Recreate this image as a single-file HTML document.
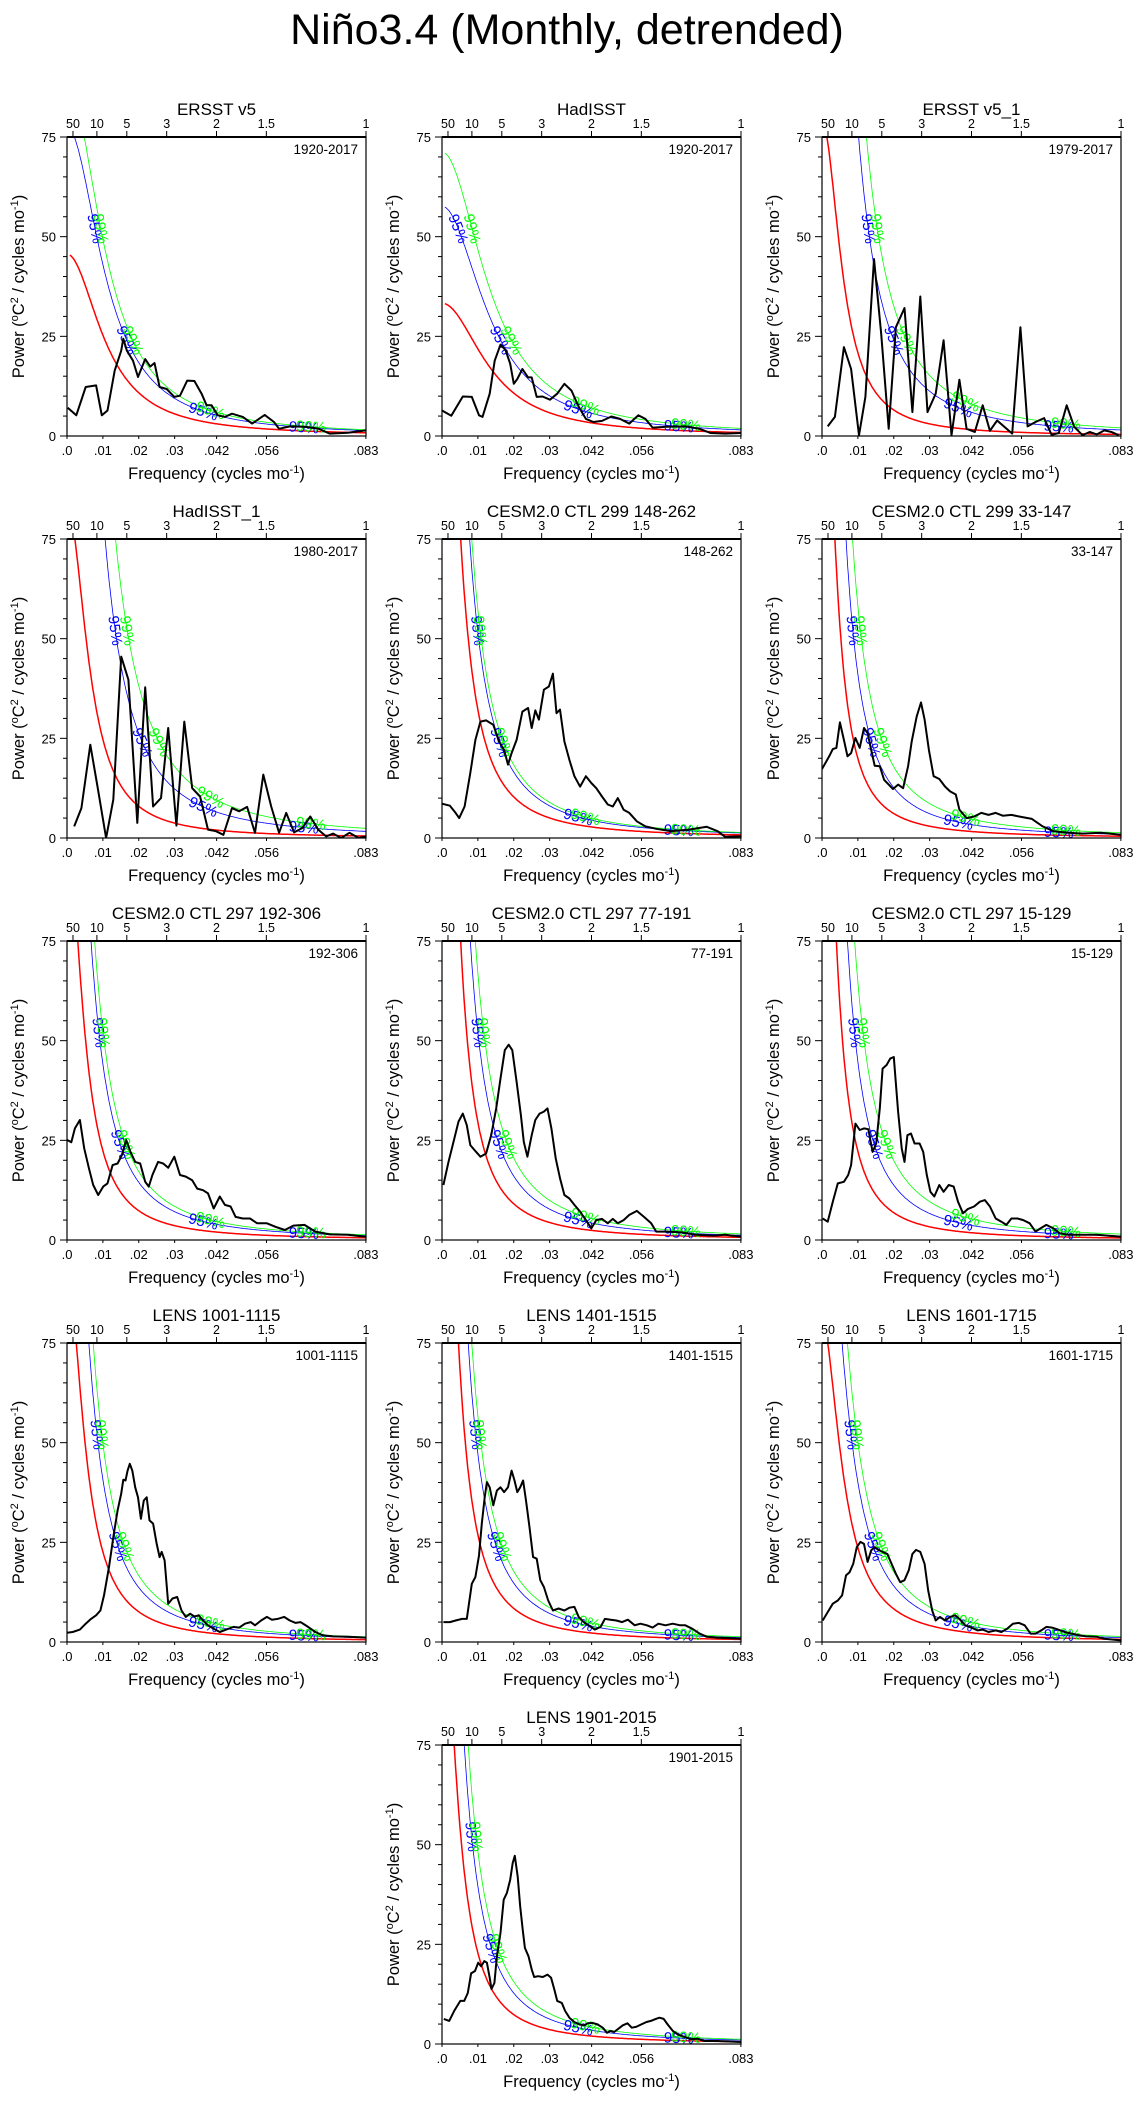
<!DOCTYPE html>
<html><head><meta charset="utf-8"><title>Niño3.4 spectra</title>
<style>
html,body{margin:0;padding:0;background:#fff;}
svg text{font-family:"Liberation Sans",sans-serif;}
</style></head>
<body>
<svg id="fig" xmlns="http://www.w3.org/2000/svg" width="1134" height="2101" viewBox="0 0 1134 2101">
<rect x="0" y="0" width="1134" height="2101" fill="#fff"/>
<text x="567" y="44" font-size="43" text-anchor="middle" fill="#000">Niño3.4 (Monthly, detrended)</text>
</svg>
<script>
// ---- data (frequency in cycles/month, power in degC^2 / cycles mo^-1) ----
const freqP1=[.0002,.0026,.0052,.0081,.0097,.0113,.0133,.0151,.0157,.0167,.0184,.0198,.0218,.0232,.0244,.0258,.0278,.0299,.0315,.0335,.0355,.0375,.0389,.0403,.0420,.0440,.0460,.0490,.0516,.0551,.0577,.0591,.0621,.0662,.0702,.0732,.0783,.0833];
const powP1=[7.1,5.2,12.3,12.7,5.2,6.4,16.4,21.4,24.4,21.4,18.9,14.8,19.3,17.4,18.3,12.3,11.8,9.8,10.1,13.9,13.8,10.6,7.7,7.7,5.2,4.8,5.6,4.8,3.1,5.3,3.5,1.8,2.4,2.3,1.8,0.6,0.8,1.4];
const freqP2=[0,.0026,.0058,.0083,.0103,.0113,.0133,.0147,.0163,.0177,.0190,.0200,.0210,.0224,.0240,.0250,.0264,.0280,.0301,.0321,.0341,.0361,.0381,.0401,.0422,.0446,.0472,.0496,.0522,.0547,.0567,.0587,.0627,.0678,.0718,.0748,.0789,.0833];
const powP2=[6.4,5.1,9.9,9.8,5.2,4.8,10.6,18.9,22.9,21.6,18.1,13.1,14.3,16.8,14.7,14.7,9.8,9.9,9.1,10.6,13.1,11.4,7.3,4.3,3.5,3.8,4.9,4.3,3.1,5.2,4.3,2.1,2.3,2.4,1.8,0.75,0.6,0.75];
const freqP3=[.0016,.0036,.0061,.0081,.0103,.0121,.0145,.0165,.0186,.0206,.0230,.0252,.0274,.0294,.0317,.0339,.0361,.0383,.0403,.0426,.0448,.0468,.0488,.0530,.0553,.0573,.0595,.0619,.0640,.0660,.0682,.0703,.0726,.0746,.0766,.0787,.0807,.0827];
const powP3=[2.4,4.8,22.3,16.8,0.2,9.8,44.4,25.6,1.8,27.3,32.1,6.0,35.0,6.0,10.6,24.0,0.2,14.1,1.8,1.0,7.7,1.3,3.9,0.6,27.3,2.4,3.5,4.5,0.3,0.75,7.7,2.3,0.2,1.0,0.4,1.4,1.0,0.2];
const freqP4=[.002,.004,.0065,.0085,.0109,.0129,.0151,.0171,.0196,.0218,.0240,.0262,.0282,.0305,.0327,.0349,.0371,.0393,.0415,.0436,.0460,.0480,.0502,.0524,.0547,.0569,.0591,.0611,.0633,.0656,.0678,.0700,.0722,.0742,.0764,.0787,.0813,.0833];
const powP4=[2.9,7.5,23.4,12.9,0,9.6,45.5,39.7,3.8,37.8,7.9,10.0,27.6,3.1,29.2,12.5,10.4,2.1,1.7,0.8,7.5,6.7,7.8,1.3,15.9,7.9,1.3,6.3,1.4,2.5,5.4,2.1,0.4,1.1,0,1.3,0,0.4];
const freqP5=[0,.0022,.0038,.0048,.0063,.0079,.0093,.0107,.0123,.0143,.0159,.0173,.0184,.0194,.0208,.0224,.0240,.0250,.0260,.0270,.0284,.0298,.0309,.0319,.0329,.0341,.0355,.0369,.0385,.0401,.0416,.0430,.0446,.0462,.0476,.0490,.0506,.0522,.0543,.0567,.0597,.0637,.0688,.0738,.0768,.0789,.0833];
const powP5=[8.6,8.1,6.3,5.0,7.9,16.3,24.6,29.2,29.5,28.4,24.2,22.1,18.4,21.3,24.6,31.7,32.6,27.6,32.0,29.7,37.2,38.0,41.2,31.3,32.2,24.2,19.6,15.5,12.9,15.5,13.8,12.5,10.4,8.4,7.9,10.0,7.1,6.3,4.2,2.9,2.3,1.7,2.1,2.8,1.7,0.3,0.4];
const freqP6=[0,.0020,.0030,.0040,.0050,.0061,.0071,.0081,.0093,.0105,.0117,.0127,.0137,.0147,.0161,.0173,.0186,.0198,.0212,.0226,.0240,.0250,.0264,.0276,.0286,.0298,.0311,.0327,.0343,.0357,.0373,.0383,.0403,.0424,.0444,.0464,.0484,.0504,.0528,.0555,.0585,.0615,.0645,.0686,.0726,.0777,.0833];
const powP6=[17.3,20.5,22.3,22.6,29.0,24.6,20.5,21.3,25.1,22.6,27.6,26.3,22.1,18.1,18.0,14.6,13.4,12.3,13.4,12.5,18.0,24.2,30.5,34.0,29.7,22.1,15.5,14.8,12.9,11.7,10.9,7.1,5.0,5.4,6.3,5.8,6.3,5.6,5.8,5.3,4.8,2.9,1.7,1.3,1.1,1.3,0.8];
const freqP7=[0,.0012,.0022,.0036,.0048,.0061,.0073,.0087,.0101,.0113,.0127,.0141,.0153,.0165,.0177,.0190,.0204,.0218,.0228,.0238,.0254,.0268,.0282,.0299,.0315,.0331,.0349,.0363,.0379,.0393,.0409,.0426,.0440,.0456,.0470,.0490,.0510,.0530,.0557,.0581,.0607,.0631,.0662,.0692,.0732,.0783,.0833];
const powP7=[25.1,24.5,28.0,30.1,23.0,18.0,13.8,11.3,13.4,14.2,18.8,19.2,21.3,25.1,22.1,19.6,19.2,14.6,13.4,16.3,19.6,19.2,18.1,20.9,16.3,15.9,15.0,12.9,12.5,11.7,7.9,10.9,8.8,8.4,5.8,5.4,5.4,4.2,4.2,3.3,2.5,3.6,3.8,2.1,1.4,1.3,0.8];
const freqP8=[.0004,.0018,.0032,.0046,.0058,.0069,.0079,.0093,.0107,.0123,.0137,.0151,.0163,.0175,.0186,.0196,.0208,.0220,.0228,.0238,.0250,.0260,.0272,.0284,.0294,.0305,.0317,.0329,.0341,.0355,.0369,.0385,.0401,.0416,.0430,.0446,.0462,.0476,.0490,.0506,.0522,.0543,.0563,.0583,.0597,.0627,.0668,.0708,.0758,.0789,.0833];
const powP8=[13.8,19.6,24.6,29.7,31.7,28.8,23.8,22.3,20.9,21.7,26.3,33.0,40.5,47.6,49.0,47.6,39.7,31.3,24.6,20.9,26.3,30.1,31.7,32.2,33.0,28.0,20.5,15.5,11.3,10.4,8.8,7.1,5.0,2.9,5.0,5.3,4.2,5.3,4.2,5.0,6.3,7.3,5.8,4.2,2.1,2.1,1.9,1.3,1.1,1.3,0.8];
const freqP9=[.0002,.0016,.0030,.0044,.0061,.0073,.0081,.0093,.0105,.0117,.0129,.0141,.0151,.0161,.0169,.0180,.0190,.0200,.0212,.0222,.0230,.0238,.0248,.0258,.0272,.0282,.0292,.0302,.0313,.0327,.0339,.0353,.0367,.0379,.0393,.0407,.0424,.0440,.0454,.0468,.0484,.0500,.0514,.0528,.0545,.0561,.0579,.0595,.0609,.0625,.0645,.0662,.0686,.0726,.0766,.0833];
const powP9=[5.4,4.6,9.6,14.2,14.6,16.3,18.8,29.2,27.6,28.0,27.8,22.1,24.2,33.0,43.0,43.9,45.5,45.9,32.2,23.0,19.6,26.3,26.7,24.2,24.2,22.1,16.3,12.1,10.9,13.8,12.1,13.8,13.4,9.6,6.7,7.8,8.4,9.6,10.0,8.4,5.4,4.6,3.8,5.4,5.4,5.0,4.2,2.1,2.9,3.8,2.9,1.7,1.3,1.3,1.3,0.8];
const freqP10=[0,.0016,.0036,.0052,.0067,.0081,.0093,.0103,.0117,.0129,.0141,.0151,.0157,.0163,.0169,.0175,.0182,.0190,.0198,.0206,.0214,.0222,.0230,.0240,.0250,.0258,.0264,.0272,.0282,.0294,.0307,.0319,.0331,.0343,.0355,.0367,.0379,.0393,.0409,.0426,.0444,.0464,.0480,.0496,.0512,.0524,.0541,.0557,.0571,.0587,.0605,.0621,.0637,.0651,.0672,.0692,.0712,.0742,.0783,.0833];
const powP10=[2.3,2.5,3.1,4.6,5.8,6.7,7.9,11.7,18.8,26.3,33.0,37.2,40.7,40.5,43.0,44.7,43.0,38.8,36.3,30.9,35.5,36.3,30.5,29.7,24.6,21.3,22.6,20.5,9.6,10.9,11.3,7.9,6.3,7.1,6.4,6.7,5.4,4.2,3.3,2.5,3.1,3.8,3.6,4.6,5.0,4.2,5.4,6.3,5.6,5.8,6.3,5.4,4.8,5.0,3.8,2.5,1.7,1.4,1.3,1.1];
const freqP11=[.0004,.0022,.0038,.0056,.0069,.0083,.0093,.0103,.0111,.0119,.0125,.0133,.0143,.0153,.0163,.0173,.0184,.0194,.0202,.0210,.0218,.0226,.0234,.0244,.0254,.0264,.0274,.0284,.0296,.0309,.0325,.0341,.0355,.0369,.0381,.0395,.0409,.0426,.0442,.0454,.0470,.0486,.0502,.0518,.0537,.0553,.0571,.0587,.0603,.0623,.0643,.0664,.0678,.0698,.0718,.0738,.0768,.0833];
const powP11=[5.0,5.0,5.4,5.8,5.8,14.6,16.3,21.7,29.7,36.3,40.1,38.8,34.3,38.0,38.8,37.6,38.8,43.0,40.5,37.6,38.8,40.5,35.5,28.8,21.3,20.9,15.5,13.8,10.4,7.9,8.4,7.9,8.6,8.8,6.3,5.0,4.2,3.1,3.8,5.8,5.6,5.4,5.0,5.6,4.2,4.6,4.2,3.6,4.6,4.2,4.6,4.2,4.2,3.3,2.1,1.3,1.1,0.8];
const freqP12=[.0002,.0016,.0030,.0044,.0056,.0067,.0077,.0087,.0097,.0107,.0117,.0127,.0137,.0147,.0157,.0169,.0182,.0194,.0206,.0218,.0230,.0242,.0252,.0262,.0274,.0286,.0296,.0307,.0317,.0329,.0343,.0357,.0371,.0383,.0399,.0416,.0434,.0448,.0464,.0484,.0500,.0516,.0532,.0549,.0565,.0581,.0595,.0611,.0625,.0641,.0658,.0676,.0696,.0716,.0736,.0766,.0787,.0833];
const powP12=[5.4,7.5,9.6,10.4,11.7,16.7,17.5,19.6,23.8,25.1,24.6,20.1,23.0,23.8,23.1,22.6,22.1,19.6,17.1,15.0,15.5,18.0,22.1,23.1,22.6,19.6,12.9,7.9,5.4,6.3,5.4,6.3,6.7,5.8,4.2,3.6,2.9,3.1,2.5,2.9,2.5,3.3,4.6,4.8,4.2,2.1,2.1,2.9,3.8,3.6,3.1,2.5,2.1,1.7,1.4,1.3,0.8,0.4];
const freqP13=[.0005,.0020,.0034,.0051,.0062,.0072,.0081,.0092,.0101,.0109,.0118,.0125,.0133,.0138,.0146,.0153,.0163,.0172,.0181,.0190,.0197,.0203,.0211,.0218,.0225,.0231,.0241,.0250,.0257,.0268,.0281,.0294,.0304,.0313,.0321,.0334,.0343,.0355,.0369,.0383,.0397,.0406,.0420,.0434,.0448,.0460,.0469,.0480,.0490,.0504,.0517,.0529,.0541,.0555,.0569,.0582,.0596,.0606,.0618,.0629,.0643,.0657,.0675,.0694,.0713,.0731,.0768,.0833];
const powP13=[6.3,5.8,8.3,10.8,10.8,12.8,17.7,18.3,20.4,19.5,20.8,20.4,16.6,13.8,15.3,22.0,27.9,36.2,37.9,41.2,45.4,47.2,42.0,34.5,28.7,24.1,22.0,18.7,16.8,17.0,16.8,17.4,16.6,13.7,10.8,10.3,8.3,6.6,5.5,4.9,4.7,5.2,5.3,4.9,4.1,2.8,3.3,3.0,3.7,4.7,5.2,4.1,4.3,4.9,5.5,5.8,6.3,6.6,6.3,4.9,3.3,2.4,1.8,1.2,1.3,0.75,0.75,0.5];

const panelTitles=["ERSST v5","HadISST","ERSST v5_1","HadISST_1","CESM2.0 CTL 299 148-262","CESM2.0 CTL 299 33-147","CESM2.0 CTL 297 192-306","CESM2.0 CTL 297 77-191","CESM2.0 CTL 297 15-129","LENS 1001-1115","LENS 1401-1515","LENS 1601-1715","LENS 1901-2015"];
const periodLabels=["1920-2017","1920-2017","1979-2017","1980-2017","148-262","33-147","192-306","77-191","15-129","1001-1115","1401-1515","1601-1715","1901-2015"];
const freqSeries=[freqP1,freqP2,freqP3,freqP4,freqP5,freqP6,freqP7,freqP8,freqP9,freqP10,freqP11,freqP12,freqP13];
const powSeries=[powP1,powP2,powP3,powP4,powP5,powP6,powP7,powP8,powP9,powP10,powP11,powP12,powP13];
// red-noise reference: two (freq, power) anchor points + exponent
const redAnchors=[[.0002,45.6,.0198,11,2],[0,33.3,.0103,21.4,2],[.002,71,.0202,6.4,2],[.0022,75,.0198,8.1,2],[.0052,75,.0107,29,1.85],[.0036,75,.0121,14.6,1.85],[.0030,75,.0137,13.8,1.85],[.0052,75,.0143,16.3,1.85],[.0040,75,.0121,16.3,1.85],[.0026,75,.0117,18,1.85],[.0046,75,.0107,24.2,1.85],[.0016,75,.0097,24.6,1.85],[.0034,75,.0138,13.8,1.85]];
const conf95=[1.7,1.73,3.7,3.3,null,null,null,null,null,null,null,null,null];
const conf99=[1.95,2.14,5.0,4.8,null,null,null,null,null,null,null,null,null];
const top95=[0,0,0,0,.0077,.0067,.0067,.0079,.0071,.0061,.0073,.0056,.0062];
const top99=[0,0,0,0,.0083,.0085,.0077,.0093,.0091,.0073,.0083,.0071,.0073];
const yTicks=[0,25,50,75];
const xTickVals=[0,.01,.02,.03,.0417,.0556,.0833];
const xTickLabels=[".0",".01",".02",".03",".042",".056",".083"];
const periodTicks=[50,10,5,3,2,1.5,1];

const NS="http://www.w3.org/2000/svg";
const svg=document.getElementById('fig');
const colLeft=[67,442,822], rowTop=[137,539,941,1343,1745], W=299, H=299;
const FMAX=1/12, YMAX=75;
function mk(tag,attrs,parent){const e=document.createElementNS(NS,tag);for(const k in attrs)e.setAttribute(k,attrs[k]);(parent||svg).appendChild(e);return e;}

function drawPanel(i,L,T){
  const g=mk('g',{});
  
  
  const xs=f=>L+f/FMAX*W, ys=v=>T+H-v/YMAX*H;
  const cid='clip'+i;
  const cp=mk('clipPath',{id:cid},g); mk('rect',{x:L,y:T,width:W,height:H},cp);
  const a=redAnchors[i], p=a[4];
  const u=(a[1]-a[3])/(a[3]*Math.pow(a[2],p)-a[1]*Math.pow(a[0],p));
  const A=a[1]*(1+Math.pow(a[0],p)*u);
  const red=f=>A/(1+Math.pow(f,p)*u);
  const k95=conf95[i]!==null?conf95[i]:75/red(top95[i]);
  const k99=conf99[i]!==null?conf99[i]:75/red(top99[i]);
  const curves=[[f=>red(f),'#ff0000',1.5,'red-noise-curve'],[f=>red(f)*k95,'#0000ff',0.8,'conf-95-curve'],[f=>red(f)*k99,'#00ff00',0.8,'conf-99-curve']];
  const cg=mk('g',{'clip-path':'url(#'+cid+')'},g);
  curves.forEach(c=>{
    let d='';
    for(let f=.0008;f<=FMAX+1e-9;f+=.0002){d+=(d?'L':'M')+xs(f).toFixed(1)+','+ys(Math.min(c[0](f),90)).toFixed(1);}
    const pth=mk('path',{d:d,fill:'none',stroke:c[1],'stroke-width':c[2]},cg);
    
    
  });
  [[1,'95%','#0000ff',0],[2,'99%','#00ff00',1]].forEach(([ci,txt,col,off])=>{
    const fn=curves[ci][0];
    const findF=v=>{let lo=.0008,hi=FMAX;if(fn(lo)<v||fn(hi)>v)return null;for(let n=0;n<40;n++){const m=(lo+hi)/2;if(fn(m)>v)lo=m;else hi=m;}return lo;};
    const spots=[findF(52),findF(24),.038+off*.002,.066+off*.002];
    spots.forEach(f=>{
      if(f===null)return;
      const d=.0004, x1=xs(f-d),y1=ys(fn(f-d)),x2=xs(f+d),y2=ys(fn(f+d));
      const ang=Math.atan2(y2-y1,x2-x1)*180/Math.PI;
      const x=xs(f), y=ys(fn(f));
      if(y<T+10||y>T+H)return;
      const t=mk('text',{x:x,y:y+5,'font-size':15,fill:col,'text-anchor':'middle',transform:'rotate('+ang.toFixed(1)+' '+x.toFixed(1)+' '+y.toFixed(1)+')'},cg);
      
      
      t.textContent=txt;
    });
  });
  const fr=freqSeries[i], pw=powSeries[i];
  let d='';
  fr.forEach((f,j)=>{d+=(j?'L':'M')+xs(f).toFixed(1)+','+ys(pw[j]).toFixed(1);});
  const sp=mk('path',{d:d,fill:'none',stroke:'#000','stroke-width':2,'stroke-linejoin':'round'},cg);
  
  
  mk('rect',{x:L,y:T,width:W,height:H,fill:'none',stroke:'#000','stroke-width':1.2},g);
  mk('line',{x1:L,x2:L+W,y1:T,y2:T,stroke:'#000','stroke-width':2},g);
  for(let v=0;v<=75;v+=5){const maj=v%25===0;mk('line',{x1:L,x2:L-(maj?7:4),y1:ys(v),y2:ys(v),stroke:'#000','stroke-width':1},g);}
  yTicks.forEach(v=>{const t=mk('text',{x:L-11,y:ys(v)+5,'font-size':13,'text-anchor':'end'},g);
    
    
    t.textContent=v;});
  xTickVals.forEach((f,j)=>{mk('line',{x1:xs(f),x2:xs(f),y1:T+H,y2:T+H+3,stroke:'#000','stroke-width':1},g);
    const t=mk('text',{x:xs(f),y:T+H+19,'font-size':13,'text-anchor':'middle'},g);
    
    
    t.textContent=xTickLabels[j];});
  periodTicks.forEach(P=>{const f=1/(12*P);mk('line',{x1:xs(f),x2:xs(f),y1:T,y2:T-6,stroke:'#000','stroke-width':1},g);
    const t=mk('text',{x:xs(f),y:T-9,'font-size':12.5,'text-anchor':'middle'},g);
    
    
    t.textContent=P;});
  const ti=mk('text',{x:L+W/2,y:T-22,'font-size':17,'text-anchor':'middle'},g);
  
  
  ti.textContent=panelTitles[i];
  const pl=mk('text',{x:L+W-8,y:T+17,'font-size':13.5,'text-anchor':'end'},g);
  
  
  pl.textContent=periodLabels[i];
  const xt=mk('text',{x:L+W/2,y:T+H+43,'font-size':16.5,'text-anchor':'middle'},g);
  
  
  xt.innerHTML='Frequency (cycles mo<tspan dy="-6" font-size="11">-1</tspan><tspan dy="6">)</tspan>';
  const cy=T+H/2, cx=L-43;
  const yt=mk('text',{x:cx,y:cy,'font-size':16.5,'text-anchor':'middle',transform:'rotate(-90 '+cx+' '+cy+')'},g);
  
  
  yt.innerHTML='Power (<tspan dy="-6" font-size="11">o</tspan><tspan dy="6">C</tspan><tspan dy="-6" font-size="11">2</tspan><tspan dy="6"> / cycles mo</tspan><tspan dy="-6" font-size="11">-1</tspan><tspan dy="6">)</tspan>';
}
for(let i=0;i<13;i++){
  const r=Math.floor(i/3), c=i<12?i%3:1;
  drawPanel(i,colLeft[c],rowTop[r]);
}
</script>
</body></html>
